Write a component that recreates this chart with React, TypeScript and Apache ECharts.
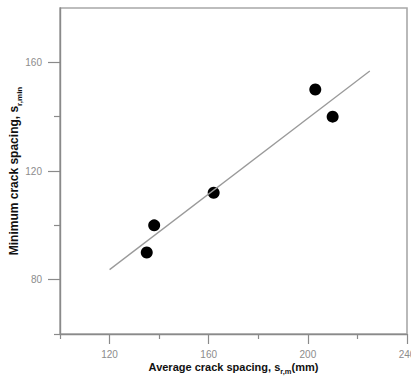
import React, { useEffect, useRef } from "react";
import * as echarts from "echarts";

// Measured crack spacings (mm)
const avgSpacing = [135, 138, 162, 203, 210];
const minSpacing = [90, 100, 112, 150, 140];

// Fitted trend line end points
const fitX = [120, 225];
const fitY = [83.7, 156.8];

// Axis ticks
const xMajor = [120, 160, 200, 240];
const xMinor = [100, 140, 180, 220];
const yMajor = [80, 120, 160];
const yMinor = [60, 100, 140];

const axisGray = "#8a8a8a";
const labelGray = "#8c8c8c";
const font = "Arial, Liberation Sans, sans-serif";

export default function App() {
  const ref = useRef<HTMLDivElement>(null);

  useEffect(() => {
    document.body.style.margin = "0";
    if (!ref.current) return;
    const chart = echarts.init(ref.current, undefined, { renderer: "svg" });

    const subStyle = (size: number) => ({
      fontSize: size,
      fontWeight: "bold",
      fontFamily: font,
      color: "#111111",
      verticalAlign: "bottom",
      padding: [0, 0, -3, 0],
    });

    const baseX = {
      type: "value",
      min: 100,
      max: 240,
      gridIndex: 0,
      splitLine: { show: false },
    };
    const baseY = {
      type: "value",
      min: 60,
      max: 180,
      gridIndex: 0,
      splitLine: { show: false },
    };

    chart.setOption({
      animation: false,
      backgroundColor: "#fff",
      grid: {
        left: 60,
        right: 4,
        top: 8,
        bottom: 44,
        containLabel: false,
        outerBoundsMode: "none",
        show: true,
        borderColor: "#a8a8a8",
        borderWidth: 1.6,
        backgroundColor: "transparent",
      },
      xAxis: [
        {
          ...baseX,
          position: "bottom",
          axisLine: { show: true, lineStyle: { color: axisGray, width: 1.4 } },
          axisTick: {
            show: true,
            customValues: xMajor,
            length: 10,
            lineStyle: { color: axisGray, width: 1.2 },
          },
          axisLabel: {
            customValues: xMajor,
            margin: 15,
            color: labelGray,
            fontSize: 10,
            fontFamily: font,
          },
          name: "Average crack spacing, s{sub|r,m}(mm)",
          nameLocation: "middle",
          nameGap: 27,
          nameMoveOverlap: false,
          nameTextStyle: {
            fontSize: 11,
            fontWeight: "bold",
            color: "#111111",
            fontFamily: font,
            rich: { sub: subStyle(7.5) },
          },
        },
        {
          ...baseX,
          position: "bottom",
          axisLine: { show: false },
          axisTick: {
            show: true,
            customValues: xMinor,
            length: 5,
            lineStyle: { color: axisGray, width: 1.2 },
          },
          axisLabel: { show: false },
        },
      ],
      yAxis: [
        {
          ...baseY,
          position: "left",
          axisLine: { show: true, lineStyle: { color: axisGray, width: 1.4 } },
          axisTick: {
            show: true,
            customValues: yMajor,
            length: 12,
            lineStyle: { color: axisGray, width: 1.2 },
          },
          axisLabel: {
            customValues: yMajor,
            margin: 18,
            color: labelGray,
            fontSize: 10,
            fontFamily: font,
          },
          name: "Minimum crack spacing, s{sub|r,min}",
          nameLocation: "middle",
          nameGap: 40,
          nameMoveOverlap: false,
          nameTextStyle: {
            fontSize: 12,
            fontWeight: "bold",
            color: "#111111",
            fontFamily: font,
            rich: { sub: subStyle(8) },
          },
        },
        {
          ...baseY,
          position: "left",
          axisLine: { show: false },
          axisTick: {
            show: true,
            customValues: yMinor,
            length: 6,
            lineStyle: { color: axisGray, width: 1.2 },
          },
          axisLabel: { show: false },
        },
      ],
      series: [
        {
          type: "line",
          data: fitX.map((x, i) => [x, fitY[i]]),
          symbol: "none",
          lineStyle: { color: "#9a9a9a", width: 1.3 },
          silent: true,
        },
        {
          type: "scatter",
          data: avgSpacing.map((x, i) => [x, minSpacing[i]]),
          symbol: "circle",
          symbolSize: 12,
          itemStyle: { color: "#000", opacity: 1 },
        },
      ],
    });

    return () => chart.dispose();
  }, []);

  return <div ref={ref} style={{ width: 411, height: 378 }} />;
}
